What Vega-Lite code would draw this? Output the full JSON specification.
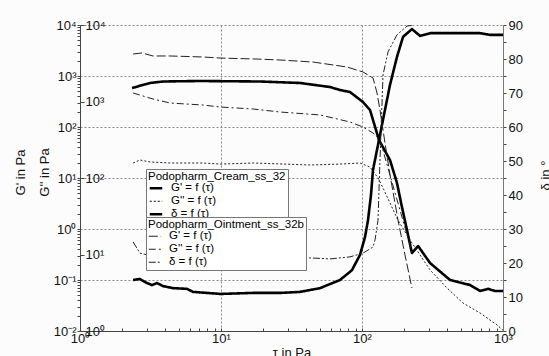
{
  "$schema": "https://vega.github.io/schema/vega-lite/v6.json",
  "width": 423,
  "height": 306,
  "autosize": "none",
  "padding": {"left": 80, "top": 25, "right": 46, "bottom": 25},
  "background": "#fcfcfc",
  "config": {
    "font": "Liberation Sans",
    "view": {"stroke": null},
    "axis": {"labelFont": "Liberation Sans", "titleFont": "Liberation Sans", "labelFontSize": 13, "titleFontSize": 13, "titleFontWeight": "normal", "labelColor": "#111", "titleColor": "#111", "labelFlush": false, "labelOverlap": false, "domainColor": "#444", "tickColor": "#444"},
    "line": {"strokeJoin": "round"}
  },
  "datasets": {
    "cream_Gp": [
      {"tau": 2.34, "value": 582, "curve": "G' = f (τ)"},
      {"tau": 3.14, "value": 730, "curve": "G' = f (τ)"},
      {"tau": 3.88, "value": 780, "curve": "G' = f (τ)"},
      {"tau": 7.1, "value": 798, "curve": "G' = f (τ)"},
      {"tau": 18.9, "value": 780, "curve": "G' = f (τ)"},
      {"tau": 36.3, "value": 730, "curve": "G' = f (τ)"},
      {"tau": 59.3, "value": 608, "curve": "G' = f (τ)"},
      {"tau": 69.8, "value": 531, "curve": "G' = f (τ)"},
      {"tau": 82.2, "value": 485, "curve": "G' = f (τ)"},
      {"tau": 101.6, "value": 309, "curve": "G' = f (τ)"},
      {"tau": 114, "value": 215, "curve": "G' = f (τ)"},
      {"tau": 119.7, "value": 137, "curve": "G' = f (τ)"},
      {"tau": 132, "value": 55.6, "curve": "G' = f (τ)"},
      {"tau": 158, "value": 22.5, "curve": "G' = f (τ)"},
      {"tau": 177, "value": 8.0, "curve": "G' = f (τ)"},
      {"tau": 192, "value": 2.7, "curve": "G' = f (τ)"},
      {"tau": 208.5, "value": 0.95, "curve": "G' = f (τ)"},
      {"tau": 226, "value": 0.338, "curve": "G' = f (τ)"},
      {"tau": 250, "value": 0.464, "curve": "G' = f (τ)"},
      {"tau": 304, "value": 0.215, "curve": "G' = f (τ)"},
      {"tau": 421, "value": 0.1, "curve": "G' = f (τ)"},
      {"tau": 583, "value": 0.08, "curve": "G' = f (τ)"},
      {"tau": 687, "value": 0.061, "curve": "G' = f (τ)"},
      {"tau": 783, "value": 0.067, "curve": "G' = f (τ)"},
      {"tau": 878, "value": 0.061, "curve": "G' = f (τ)"},
      {"tau": 1000, "value": 0.061, "curve": "G' = f (τ)"}
    ],
    "cream_Gpp": [
      {"tau": 2.38, "value": 157, "curve": "G'' = f (τ)"},
      {"tau": 2.66, "value": 172, "curve": "G'' = f (τ)"},
      {"tau": 3.14, "value": 162, "curve": "G'' = f (τ)"},
      {"tau": 4.35, "value": 157, "curve": "G'' = f (τ)"},
      {"tau": 7.45, "value": 157, "curve": "G'' = f (τ)"},
      {"tau": 9.84, "value": 152, "curve": "G'' = f (τ)"},
      {"tau": 16.9, "value": 157, "curve": "G'' = f (τ)"},
      {"tau": 42.8, "value": 148, "curve": "G'' = f (τ)"},
      {"tau": 69.8, "value": 152, "curve": "G'' = f (τ)"},
      {"tau": 96.8, "value": 157, "curve": "G'' = f (τ)"},
      {"tau": 114, "value": 139, "curve": "G'' = f (τ)"},
      {"tau": 130, "value": 100, "curve": "G'' = f (τ)"},
      {"tau": 143, "value": 70, "curve": "G'' = f (τ)"},
      {"tau": 158, "value": 47, "curve": "G'' = f (τ)"},
      {"tau": 180, "value": 28, "curve": "G'' = f (τ)"},
      {"tau": 219, "value": 15.5, "curve": "G'' = f (τ)"},
      {"tau": 258, "value": 9.85, "curve": "G'' = f (τ)"},
      {"tau": 304, "value": 6.27, "curve": "G'' = f (τ)"},
      {"tau": 401, "value": 3.65, "curve": "G'' = f (τ)"},
      {"tau": 520, "value": 2.32, "curve": "G'' = f (τ)"},
      {"tau": 687, "value": 1.72, "curve": "G'' = f (τ)"},
      {"tau": 907, "value": 1.2, "curve": "G'' = f (τ)"},
      {"tau": 1000, "value": 1.02, "curve": "G'' = f (τ)"}
    ],
    "cream_d": [
      {"tau": 2.38, "value": 15.0, "curve": "δ = f (τ)"},
      {"tau": 2.66, "value": 15.3, "curve": "δ = f (τ)"},
      {"tau": 2.99, "value": 14.1, "curve": "δ = f (τ)"},
      {"tau": 3.24, "value": 13.5, "curve": "δ = f (τ)"},
      {"tau": 3.52, "value": 14.1, "curve": "δ = f (τ)"},
      {"tau": 3.88, "value": 13.2, "curve": "δ = f (τ)"},
      {"tau": 4.57, "value": 12.6, "curve": "δ = f (τ)"},
      {"tau": 5.74, "value": 12.4, "curve": "δ = f (τ)"},
      {"tau": 6.33, "value": 11.5, "curve": "δ = f (τ)"},
      {"tau": 7.96, "value": 11.2, "curve": "δ = f (τ)"},
      {"tau": 9.84, "value": 10.9, "curve": "δ = f (τ)"},
      {"tau": 16.9, "value": 11.2, "curve": "δ = f (τ)"},
      {"tau": 26.2, "value": 11.2, "curve": "δ = f (τ)"},
      {"tau": 36.3, "value": 11.5, "curve": "δ = f (τ)"},
      {"tau": 50.4, "value": 12.6, "curve": "δ = f (τ)"},
      {"tau": 69.8, "value": 15.0, "curve": "δ = f (τ)"},
      {"tau": 84.9, "value": 17.9, "curve": "δ = f (τ)"},
      {"tau": 96.8, "value": 22.4, "curve": "δ = f (τ)"},
      {"tau": 105, "value": 27.6, "curve": "δ = f (τ)"},
      {"tau": 110.3, "value": 32.6, "curve": "δ = f (τ)"},
      {"tau": 115.8, "value": 40.0, "curve": "δ = f (τ)"},
      {"tau": 119.7, "value": 47.4, "curve": "δ = f (τ)"},
      {"tau": 132, "value": 56.2, "curve": "δ = f (τ)"},
      {"tau": 140.9, "value": 62.1, "curve": "δ = f (τ)"},
      {"tau": 158, "value": 72.4, "curve": "δ = f (τ)"},
      {"tau": 177, "value": 80.6, "curve": "δ = f (τ)"},
      {"tau": 195.4, "value": 86.5, "curve": "δ = f (τ)"},
      {"tau": 226, "value": 88.8, "curve": "δ = f (τ)"},
      {"tau": 258, "value": 86.8, "curve": "δ = f (τ)"},
      {"tau": 304, "value": 87.6, "curve": "δ = f (τ)"},
      {"tau": 401, "value": 87.6, "curve": "δ = f (τ)"},
      {"tau": 687, "value": 87.6, "curve": "δ = f (τ)"},
      {"tau": 809, "value": 87.1, "curve": "δ = f (τ)"},
      {"tau": 1000, "value": 87.1, "curve": "δ = f (τ)"}
    ],
    "oint_Gp": [
      {"tau": 2.38, "value": 2700, "curve": "G' = f (τ)"},
      {"tau": 2.75, "value": 2830, "curve": "G' = f (τ)"},
      {"tau": 3.29, "value": 2470, "curve": "G' = f (τ)"},
      {"tau": 4.35, "value": 2470, "curve": "G' = f (τ)"},
      {"tau": 7.45, "value": 2360, "curve": "G' = f (τ)"},
      {"tau": 9.84, "value": 2250, "curve": "G' = f (τ)"},
      {"tau": 18.0, "value": 2150, "curve": "G' = f (τ)"},
      {"tau": 26.2, "value": 2060, "curve": "G' = f (τ)"},
      {"tau": 44.9, "value": 1880, "curve": "G' = f (τ)"},
      {"tau": 78.3, "value": 1500, "curve": "G' = f (τ)"},
      {"tau": 101.6, "value": 1200, "curve": "G' = f (τ)"},
      {"tau": 119.7, "value": 914, "curve": "G' = f (τ)"},
      {"tau": 127.8, "value": 464, "curve": "G' = f (τ)"},
      {"tau": 134.2, "value": 215, "curve": "G' = f (τ)"},
      {"tau": 145.6, "value": 48.5, "curve": "G' = f (τ)"},
      {"tau": 158, "value": 11.5, "curve": "G' = f (τ)"},
      {"tau": 180, "value": 1.5, "curve": "G' = f (τ)"},
      {"tau": 201.8, "value": 0.31, "curve": "G' = f (τ)"},
      {"tau": 226, "value": 0.0697, "curve": "G' = f (τ)"}
    ],
    "oint_Gpp": [
      {"tau": 2.38, "value": 1291, "curve": "G'' = f (τ)"},
      {"tau": 3.29, "value": 1079, "curve": "G'' = f (τ)"},
      {"tau": 4.35, "value": 955, "curve": "G'' = f (τ)"},
      {"tau": 7.45, "value": 899, "curve": "G'' = f (τ)"},
      {"tau": 9.84, "value": 847, "curve": "G'' = f (τ)"},
      {"tau": 16.9, "value": 798, "curve": "G'' = f (τ)"},
      {"tau": 26.2, "value": 729, "curve": "G'' = f (τ)"},
      {"tau": 50.4, "value": 667, "curve": "G'' = f (τ)"},
      {"tau": 82.2, "value": 540, "curve": "G'' = f (τ)"},
      {"tau": 101.6, "value": 464, "curve": "G'' = f (τ)"},
      {"tau": 119.7, "value": 387, "curve": "G'' = f (τ)"},
      {"tau": 134.2, "value": 314, "curve": "G'' = f (τ)"},
      {"tau": 158, "value": 109, "curve": "G'' = f (τ)"},
      {"tau": 186, "value": 38, "curve": "G'' = f (τ)"},
      {"tau": 219, "value": 13.3, "curve": "G'' = f (τ)"},
      {"tau": 226, "value": 10.8, "curve": "G'' = f (τ)"}
    ],
    "oint_d": [
      {"tau": 2.38, "value": 26.2, "curve": "δ = f (τ)"},
      {"tau": 2.66, "value": 22.9, "curve": "δ = f (τ)"},
      {"tau": 3.69, "value": 21.5, "curve": "δ = f (τ)"},
      {"tau": 7.1, "value": 21.0, "curve": "δ = f (τ)"},
      {"tau": 15.9, "value": 20.8, "curve": "δ = f (τ)"},
      {"tau": 30.9, "value": 20.6, "curve": "δ = f (τ)"},
      {"tau": 42.8, "value": 21.5, "curve": "δ = f (τ)"},
      {"tau": 59.3, "value": 21.2, "curve": "δ = f (τ)"},
      {"tau": 82.2, "value": 21.8, "curve": "δ = f (τ)"},
      {"tau": 101.6, "value": 22.9, "curve": "δ = f (τ)"},
      {"tau": 119.7, "value": 24.7, "curve": "δ = f (τ)"},
      {"tau": 123.7, "value": 26.8, "curve": "δ = f (τ)"},
      {"tau": 129.9, "value": 32.6, "curve": "δ = f (τ)"},
      {"tau": 132, "value": 41.5, "curve": "δ = f (τ)"},
      {"tau": 134.2, "value": 50.3, "curve": "δ = f (τ)"},
      {"tau": 136.4, "value": 59.1, "curve": "δ = f (τ)"},
      {"tau": 138.7, "value": 67.1, "curve": "δ = f (τ)"},
      {"tau": 140.9, "value": 75.3, "curve": "δ = f (τ)"},
      {"tau": 152.9, "value": 82.1, "curve": "δ = f (τ)"},
      {"tau": 177, "value": 87.1, "curve": "δ = f (τ)"},
      {"tau": 208.5, "value": 89.7, "curve": "δ = f (τ)"},
      {"tau": 230, "value": 89.9, "curve": "δ = f (τ)"}
    ]
  },
  "encoding": {
    "x": {
      "field": "tau", "type": "quantitative",
      "scale": {"type": "log", "domain": [1, 1000], "nice": false},
      "axis": {
        "title": "τ in Pa",
        "values": [1,2,3,4,5,6,7,8,9,10,20,30,40,50,60,70,80,90,100,200,300,400,500,600,700,800,900,1000],
        "labelExpr": "datum.value == 1 ? '10⁰' : datum.value == 10 ? '10¹' : datum.value == 100 ? '10²' : datum.value == 1000 ? '10³' : ''",
        "grid": true, "gridDash": [2, 2], "gridColor": "#888",
        "gridOpacity": {"condition": {"test": "indexof([1,10,100,1000], datum.value) >= 0", "value": 1}, "value": 0},
        "tickSize": -3, "labelPadding": 4, "titlePadding": 1
      }
    }
  },
  "layer": [
    {
      "encoding": {
        "strokeDash": {"field": "curve", "type": "nominal",
          "scale": {"domain": ["G' = f (τ)", "G'' = f (τ)", "δ = f (τ)"], "range": [[1, 0], [2, 2], [1, 0]]},
          "legend": {"title": "Podopharm_Cream_ss_32", "orient": "none", "legendX": 66, "legendY": 144, "padding": 2, "fillColor": "white", "strokeColor": "#777", "titleFontWeight": "normal", "titleFontSize": 11.5, "labelFontSize": 11.5, "titleFont": "Liberation Sans", "labelFont": "Liberation Sans", "titlePadding": 0, "rowPadding": 0, "clipHeight": 11.5, "symbolSize": 156, "symbolStrokeColor": "black", "labelOffset": 7, "symbolType": "stroke", "titleColor": "black", "labelColor": "black"}},
        "strokeWidth": {"field": "curve", "type": "nominal",
          "scale": {"type": "ordinal", "domain": ["G' = f (τ)", "G'' = f (τ)", "δ = f (τ)"], "range": [2.6, 1, 2.6]},
          "legend": {"title": "Podopharm_Cream_ss_32", "orient": "none", "legendX": 66, "legendY": 144, "padding": 2, "fillColor": "white", "strokeColor": "#777", "titleFontWeight": "normal", "titleFontSize": 11.5, "labelFontSize": 11.5, "titleFont": "Liberation Sans", "labelFont": "Liberation Sans", "titlePadding": 0, "rowPadding": 0, "clipHeight": 11.5, "symbolSize": 156, "symbolStrokeColor": "black", "labelOffset": 7, "symbolType": "stroke", "titleColor": "black", "labelColor": "black"}}
      },
      "layer": [
        {
          "data": {"name": "cream_Gp"},
          "mark": {"type": "line", "color": "black"},
          "encoding": {
            "y": {"field": "value", "type": "quantitative",
              "scale": {"type": "log", "domain": [0.01, 10000], "nice": false},
              "axis": {
                "orient": "left", "title": "G' in Pa",
                "values": [0.01,0.02,0.03,0.04,0.05,0.06,0.07,0.08,0.09,0.1,0.2,0.3,0.4,0.5,0.6,0.7,0.8,0.9,1,2,3,4,5,6,7,8,9,10,20,30,40,50,60,70,80,90,100,200,300,400,500,600,700,800,900,1000,2000,3000,4000,5000,6000,7000,8000,9000,10000],
                "labelExpr": "datum.value == 0.01 ? '10⁻²' : datum.value == 0.1 ? '10⁻¹' : datum.value == 1 ? '10⁰' : datum.value == 10 ? '10¹' : datum.value == 100 ? '10²' : datum.value == 1000 ? '10³' : datum.value == 10000 ? '10⁴' : ''",
                "grid": true, "gridDash": [2, 2], "gridColor": "#888",
                "gridOpacity": {"condition": {"test": "indexof([0.01,0.1,1,10,100,1000,10000], datum.value) >= 0", "value": 1}, "value": 0},
                "tickSize": 3, "labelPadding": 1,
                "titleX": -60, "titleY": 147, "titleAngle": 270, "titleBaseline": "middle", "titleAlign": "center"
              }
            }
          }
        },
        {
          "data": {"name": "cream_Gpp"},
          "mark": {"type": "line", "color": "#222"},
          "encoding": {
            "y": {"field": "value", "type": "quantitative",
              "scale": {"type": "log", "domain": [1, 10000], "nice": false},
              "axis": {
                "orient": "right", "offset": -423, "title": "G'' in Pa",
                "values": [1, 10, 100, 1000, 10000],
                "labelExpr": "datum.value == 1 ? '10⁰' : datum.value == 10 ? '10¹' : datum.value == 100 ? '10²' : datum.value == 1000 ? '10³' : '10⁴'",
                "grid": false, "domain": false, "tickSize": 4, "labelPadding": 1,
                "titleX": -36, "titleY": 147, "titleAngle": 270, "titleBaseline": "middle", "titleAlign": "center"
              }
            }
          }
        },
        {
          "data": {"name": "cream_d"},
          "mark": {"type": "line", "color": "black"},
          "encoding": {
            "y": {"field": "value", "type": "quantitative",
              "scale": {"type": "linear", "domain": [0, 90], "nice": false},
              "axis": {
                "orient": "right", "title": "δ in °",
                "values": [0,5,10,15,20,25,30,35,40,45,50,55,60,65,70,75,80,85,90],
                "labelExpr": "datum.value % 10 == 0 ? datum.label : ''",
                "grid": false, "tickSize": 3, "labelPadding": 2, "domainColor": "#777",
                "titleX": 42, "titleY": 150, "titleAngle": 270, "titleBaseline": "middle", "titleAlign": "center"
              }
            }
          }
        }
      ],
      "resolve": {"scale": {"y": "independent"}}
    },
    {
      "encoding": {
        "strokeDash": {"field": "curve", "type": "nominal",
          "scale": {"domain": ["G' = f (τ)", "G'' = f (τ)", "δ = f (τ)"], "range": [[9, 3], [7, 3, 2, 3], [7, 2, 2, 2, 2, 2]]},
          "legend": {"title": "Podopharm_Ointment_ss_32b", "orient": "none", "legendX": 66, "legendY": 192, "padding": 2, "fillColor": "white", "strokeColor": "#777", "titleFontWeight": "normal", "titleFontSize": 11.5, "labelFontSize": 11.5, "titleFont": "Liberation Sans", "labelFont": "Liberation Sans", "titlePadding": 0, "rowPadding": 0, "clipHeight": 11.5, "symbolSize": 156, "symbolStrokeColor": "#222", "labelOffset": 7, "symbolType": "stroke", "titleColor": "black", "labelColor": "black"}},
        "strokeWidth": {"field": "curve", "type": "nominal",
          "scale": {"type": "ordinal", "domain": ["G' = f (τ)", "G'' = f (τ)", "δ = f (τ)"], "range": [1, 1, 1]},
          "legend": {"title": "Podopharm_Ointment_ss_32b", "orient": "none", "legendX": 66, "legendY": 192, "padding": 2, "fillColor": "white", "strokeColor": "#777", "titleFontWeight": "normal", "titleFontSize": 11.5, "labelFontSize": 11.5, "titleFont": "Liberation Sans", "labelFont": "Liberation Sans", "titlePadding": 0, "rowPadding": 0, "clipHeight": 11.5, "symbolSize": 156, "symbolStrokeColor": "#222", "labelOffset": 7, "symbolType": "stroke", "titleColor": "black", "labelColor": "black"}}
      },
      "layer": [
        {
          "data": {"name": "oint_Gp"},
          "mark": {"type": "line", "color": "#222"},
          "encoding": {
            "y": {"field": "value", "type": "quantitative",
              "scale": {"type": "log", "domain": [0.01, 10000], "nice": false}, "axis": null}
          }
        },
        {
          "data": {"name": "oint_Gpp"},
          "mark": {"type": "line", "color": "#222"},
          "encoding": {
            "y": {"field": "value", "type": "quantitative",
              "scale": {"type": "log", "domain": [1, 10000], "nice": false}, "axis": null}
          }
        },
        {
          "data": {"name": "oint_d"},
          "mark": {"type": "line", "color": "#222"},
          "encoding": {
            "y": {"field": "value", "type": "quantitative",
              "scale": {"type": "linear", "domain": [0, 90], "nice": false}, "axis": null}
          }
        }
      ],
      "resolve": {"scale": {"y": "independent"}}
    }
  ],
  "resolve": {"scale": {"y": "independent", "strokeDash": "independent", "strokeWidth": "independent"}}
}
